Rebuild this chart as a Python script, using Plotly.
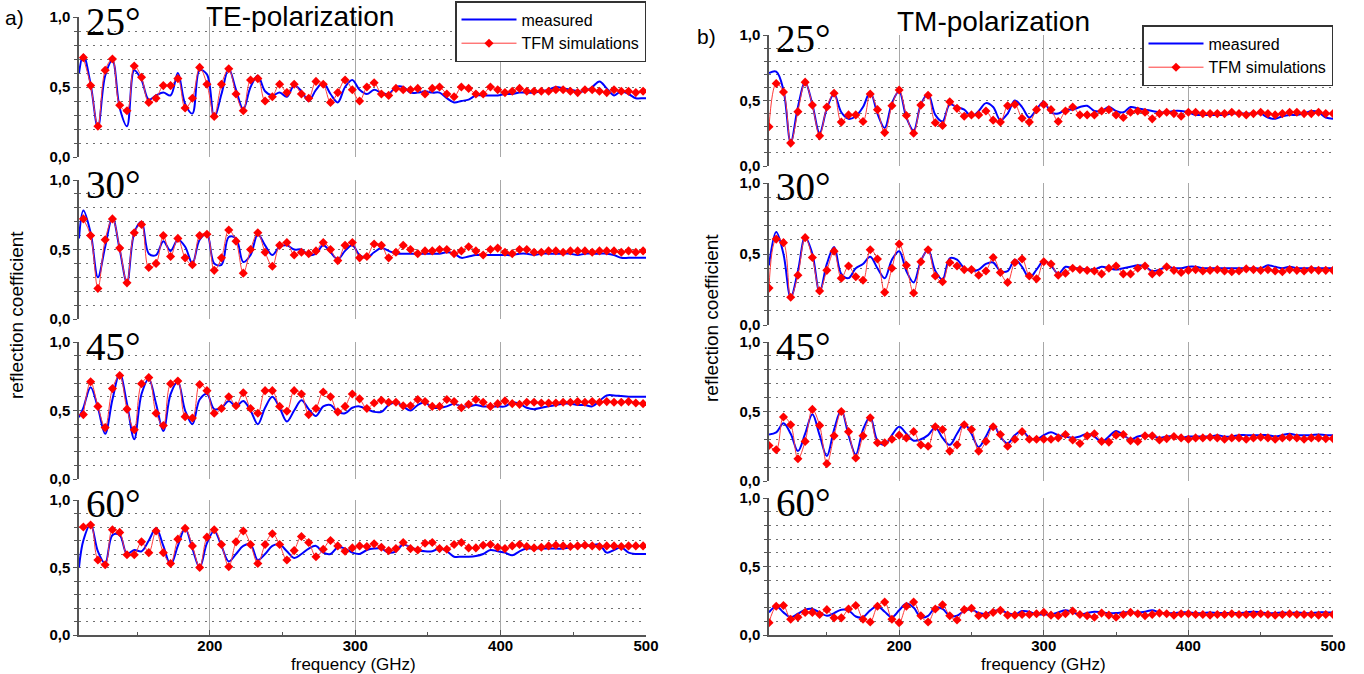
import plotly.graph_objects as go

# frequency grids (GHz)
freq_te_sim = list(range(113, 499, 5))
freq_te_meas = [110] + freq_te_sim + [500]
freq_tm = list(range(110, 501, 5))

# ---- TE polarization ----
te25_sim = [0.71, 0.51, 0.22, 0.62, 0.70, 0.37, 0.33, 0.65, 0.57, 0.39,
            0.42, 0.51, 0.51, 0.56, 0.35, 0.42, 0.64, 0.52, 0.29, 0.52,
            0.63, 0.45, 0.33, 0.55, 0.56, 0.40, 0.43, 0.52, 0.46, 0.52,
            0.45, 0.42, 0.54, 0.52, 0.39, 0.46, 0.55, 0.48, 0.40, 0.50,
            0.53, 0.45, 0.44, 0.49, 0.48, 0.48, 0.49, 0.45, 0.49, 0.50,
            0.45, 0.43, 0.50, 0.49, 0.45, 0.45, 0.50, 0.48, 0.46, 0.47,
            0.49, 0.47, 0.47, 0.47, 0.47, 0.48, 0.48, 0.47, 0.46, 0.48,
            0.48, 0.47, 0.46, 0.48, 0.47, 0.47, 0.46, 0.47]
te25_meas = [0.60,
             0.73, 0.52, 0.21, 0.58, 0.69, 0.35, 0.22, 0.62, 0.55, 0.41,
             0.44, 0.46, 0.44, 0.60, 0.38, 0.31, 0.62, 0.59, 0.28, 0.45,
             0.63, 0.48, 0.34, 0.50, 0.58, 0.47, 0.44, 0.46, 0.43, 0.51,
             0.47, 0.40, 0.48, 0.53, 0.45, 0.39, 0.50, 0.55, 0.48, 0.45,
             0.48, 0.46, 0.45, 0.50, 0.50, 0.46, 0.46, 0.47, 0.46, 0.46,
             0.42, 0.39, 0.40, 0.41, 0.44, 0.44, 0.44, 0.44, 0.45, 0.45,
             0.46, 0.46, 0.46, 0.47, 0.48, 0.50, 0.49, 0.48, 0.47, 0.47,
             0.50, 0.54, 0.49, 0.44, 0.47, 0.45, 0.42, 0.42,
             0.42]

te30_sim = [0.72, 0.60, 0.22, 0.57, 0.72, 0.51, 0.26, 0.62, 0.68, 0.37,
            0.40, 0.60, 0.45, 0.58, 0.44, 0.39, 0.60, 0.61, 0.35, 0.44,
            0.64, 0.56, 0.33, 0.50, 0.62, 0.48, 0.38, 0.53, 0.55, 0.46,
            0.48, 0.47, 0.49, 0.55, 0.50, 0.42, 0.53, 0.55, 0.44, 0.45,
            0.54, 0.53, 0.44, 0.48, 0.53, 0.50, 0.47, 0.49, 0.49, 0.50,
            0.50, 0.47, 0.49, 0.52, 0.49, 0.46, 0.50, 0.51, 0.48, 0.47,
            0.50, 0.50, 0.48, 0.48, 0.49, 0.49, 0.48, 0.49, 0.49, 0.49,
            0.48, 0.49, 0.49, 0.49, 0.48, 0.49, 0.48, 0.49]
te30_meas = [0.58,
             0.78, 0.62, 0.30, 0.52, 0.73, 0.50, 0.26, 0.62, 0.70, 0.47,
             0.46, 0.56, 0.49, 0.57, 0.52, 0.40, 0.57, 0.61, 0.40, 0.39,
             0.59, 0.58, 0.41, 0.46, 0.61, 0.53, 0.46, 0.52, 0.53, 0.50,
             0.50, 0.46, 0.47, 0.53, 0.48, 0.43, 0.49, 0.53, 0.46, 0.44,
             0.48, 0.51, 0.49, 0.47, 0.47, 0.47, 0.47, 0.47, 0.47, 0.47,
             0.48, 0.47, 0.44, 0.45, 0.46, 0.46, 0.46, 0.46, 0.46, 0.46,
             0.47, 0.47, 0.46, 0.47, 0.47, 0.47, 0.47, 0.47, 0.46, 0.47,
             0.47, 0.47, 0.47, 0.46, 0.44, 0.44, 0.44, 0.44,
             0.44]

te45_sim = [0.47, 0.71, 0.53, 0.375, 0.66, 0.755, 0.51, 0.36, 0.695, 0.74,
            0.48, 0.39, 0.695, 0.715, 0.455, 0.445, 0.69, 0.645, 0.48, 0.515,
            0.60, 0.535, 0.63, 0.515, 0.48, 0.645, 0.645, 0.53, 0.495, 0.645,
            0.62, 0.47, 0.515, 0.635, 0.60, 0.49, 0.53, 0.62, 0.585, 0.515,
            0.555, 0.575, 0.56, 0.56, 0.535, 0.535, 0.58, 0.565, 0.53, 0.53,
            0.58, 0.565, 0.52, 0.545, 0.58, 0.56, 0.53, 0.55, 0.57, 0.55,
            0.545, 0.56, 0.56, 0.555, 0.555, 0.555, 0.56, 0.56, 0.565, 0.56,
            0.565, 0.56, 0.565, 0.56, 0.56, 0.565, 0.555, 0.55]
te45_meas = [0.45,
             0.52, 0.67, 0.52, 0.33, 0.58, 0.77, 0.55, 0.29, 0.62, 0.73,
             0.55, 0.35, 0.62, 0.71, 0.50, 0.40, 0.58, 0.62, 0.51, 0.52,
             0.57, 0.53, 0.57, 0.50, 0.40, 0.52, 0.60, 0.52, 0.42, 0.50,
             0.575, 0.51, 0.46, 0.53, 0.54, 0.49, 0.48, 0.52, 0.53, 0.51,
             0.49, 0.49, 0.54, 0.56, 0.53, 0.50, 0.54, 0.56, 0.52, 0.52,
             0.53, 0.55, 0.53, 0.53, 0.54, 0.53, 0.53, 0.53, 0.53, 0.56,
             0.55, 0.52, 0.51, 0.52, 0.53, 0.54, 0.55, 0.55, 0.54, 0.54,
             0.53, 0.57, 0.61, 0.61, 0.605, 0.60, 0.60, 0.60,
             0.60]

te60_sim = [0.80, 0.815, 0.555, 0.52, 0.78, 0.76, 0.595, 0.595, 0.69, 0.61,
            0.77, 0.61, 0.53, 0.71, 0.79, 0.66, 0.50, 0.725, 0.78, 0.67,
            0.505, 0.69, 0.77, 0.67, 0.53, 0.67, 0.75, 0.67, 0.555, 0.625,
            0.73, 0.685, 0.58, 0.635, 0.70, 0.66, 0.62, 0.645, 0.66, 0.655,
            0.675, 0.65, 0.625, 0.64, 0.685, 0.64, 0.63, 0.68, 0.685, 0.64,
            0.635, 0.67, 0.685, 0.645, 0.645, 0.665, 0.67, 0.65, 0.64, 0.66,
            0.67, 0.655, 0.645, 0.65, 0.66, 0.665, 0.66, 0.655, 0.66, 0.665,
            0.66, 0.655, 0.66, 0.66, 0.655, 0.66, 0.66, 0.66]
te60_meas = [0.50,
             0.70, 0.82, 0.62, 0.53, 0.74, 0.74, 0.60, 0.63, 0.62, 0.70,
             0.79, 0.66, 0.52, 0.66, 0.79, 0.64, 0.50, 0.68, 0.77, 0.66,
             0.545, 0.60, 0.66, 0.67, 0.555, 0.60, 0.66, 0.67, 0.62, 0.57,
             0.60, 0.64, 0.66, 0.61, 0.60, 0.65, 0.64, 0.61, 0.60, 0.63,
             0.64, 0.64, 0.61, 0.62, 0.67, 0.65, 0.63, 0.62, 0.62, 0.64,
             0.62, 0.58, 0.58, 0.58, 0.585, 0.60, 0.63, 0.62, 0.61, 0.59,
             0.62, 0.64, 0.64, 0.64, 0.64, 0.64, 0.64, 0.65, 0.66, 0.66,
             0.665, 0.67, 0.61, 0.63, 0.65, 0.61, 0.60, 0.60,
             0.60]

# ---- TM polarization ----
tm25_sim = [0.30, 0.63, 0.565, 0.175, 0.415, 0.64, 0.465, 0.23, 0.45, 0.555,
            0.335, 0.39, 0.39, 0.34, 0.55, 0.43, 0.255, 0.46, 0.58, 0.385,
            0.25, 0.465, 0.54, 0.33, 0.31, 0.49, 0.44, 0.38, 0.39, 0.39,
            0.42, 0.35, 0.335, 0.46, 0.47, 0.365, 0.335, 0.43, 0.47, 0.43,
            0.34, 0.42, 0.45, 0.39, 0.39, 0.39, 0.42, 0.43, 0.39, 0.37,
            0.41, 0.42, 0.41, 0.36, 0.40, 0.41, 0.40, 0.38, 0.41, 0.41,
            0.40, 0.40, 0.40, 0.40, 0.41, 0.40, 0.39, 0.40, 0.41, 0.40,
            0.39, 0.40, 0.41, 0.41, 0.40, 0.40, 0.41, 0.40, 0.40]
tm25_meas = [0.71, 0.72, 0.58, 0.18, 0.45, 0.64, 0.47, 0.25, 0.44, 0.55,
             0.41, 0.36, 0.38, 0.45, 0.565, 0.40, 0.29, 0.48, 0.57, 0.37,
             0.27, 0.47, 0.55, 0.39, 0.34, 0.47, 0.45, 0.43, 0.38, 0.42,
             0.48, 0.45, 0.35, 0.40, 0.50, 0.45, 0.37, 0.43, 0.49, 0.41,
             0.40, 0.43, 0.43, 0.45, 0.46, 0.42, 0.42, 0.45, 0.42, 0.41,
             0.45, 0.44, 0.43, 0.42, 0.41, 0.41, 0.42, 0.42, 0.41, 0.39,
             0.39, 0.39, 0.39, 0.39, 0.40, 0.40, 0.40, 0.40, 0.40, 0.37,
             0.36, 0.38, 0.39, 0.39, 0.40, 0.42, 0.41, 0.37, 0.36]

tm30_sim = [0.26, 0.605, 0.58, 0.195, 0.35, 0.615, 0.475, 0.24, 0.385, 0.52,
            0.33, 0.415, 0.34, 0.315, 0.53, 0.465, 0.23, 0.40, 0.57, 0.42,
            0.225, 0.445, 0.53, 0.345, 0.305, 0.44, 0.415, 0.39, 0.39, 0.35,
            0.38, 0.475, 0.37, 0.30, 0.44, 0.465, 0.345, 0.325, 0.445, 0.43,
            0.35, 0.365, 0.40, 0.39, 0.385, 0.38, 0.36, 0.40, 0.415, 0.36,
            0.36, 0.40, 0.415, 0.36, 0.37, 0.41, 0.385, 0.37, 0.385, 0.39,
            0.38, 0.385, 0.39, 0.38, 0.375, 0.38, 0.395, 0.39, 0.385, 0.39,
            0.38, 0.375, 0.39, 0.385, 0.38, 0.39, 0.385, 0.385, 0.385]
tm30_meas = [0.42, 0.655, 0.50, 0.195, 0.38, 0.62, 0.50, 0.23, 0.43, 0.55,
             0.36, 0.33, 0.40, 0.43, 0.48, 0.40, 0.33, 0.46, 0.52, 0.38,
             0.30, 0.45, 0.53, 0.38, 0.32, 0.47, 0.46, 0.40, 0.38, 0.39,
             0.43, 0.44, 0.38, 0.38, 0.46, 0.41, 0.33, 0.39, 0.45, 0.42,
             0.36, 0.41, 0.40, 0.40, 0.39, 0.39, 0.41, 0.40, 0.39, 0.40,
             0.41, 0.42, 0.41, 0.38, 0.39, 0.41, 0.40, 0.40, 0.41, 0.41,
             0.40, 0.40, 0.40, 0.40, 0.40, 0.40, 0.40, 0.40, 0.40, 0.42,
             0.41, 0.40, 0.41, 0.40, 0.40, 0.40, 0.40, 0.40, 0.40]

tm45_sim = [0.255, 0.225, 0.46, 0.405, 0.16, 0.285, 0.515, 0.40, 0.125, 0.325,
            0.50, 0.355, 0.165, 0.325, 0.455, 0.275, 0.275, 0.30, 0.33, 0.31,
            0.355, 0.26, 0.25, 0.39, 0.37, 0.215, 0.26, 0.405, 0.37, 0.215,
            0.285, 0.39, 0.335, 0.25, 0.30, 0.355, 0.30, 0.30, 0.30, 0.30,
            0.31, 0.335, 0.295, 0.27, 0.325, 0.34, 0.285, 0.28, 0.33, 0.335,
            0.29, 0.285, 0.325, 0.325, 0.295, 0.305, 0.32, 0.31, 0.30, 0.31,
            0.31, 0.315, 0.31, 0.30, 0.31, 0.31, 0.30, 0.31, 0.315, 0.31,
            0.30, 0.31, 0.315, 0.31, 0.30, 0.31, 0.31, 0.305, 0.305]
tm45_meas = [0.335, 0.35, 0.415, 0.34, 0.215, 0.34, 0.48, 0.33, 0.18, 0.37,
             0.51, 0.33, 0.19, 0.37, 0.46, 0.29, 0.26, 0.33, 0.39, 0.34,
             0.29, 0.30, 0.33, 0.385, 0.31, 0.26, 0.34, 0.41, 0.34, 0.245,
             0.32, 0.405, 0.32, 0.27, 0.33, 0.36, 0.31, 0.30, 0.33, 0.35,
             0.33, 0.32, 0.31, 0.32, 0.34, 0.32, 0.28, 0.32, 0.36, 0.33,
             0.30, 0.32, 0.33, 0.32, 0.31, 0.32, 0.32, 0.31, 0.32, 0.32,
             0.32, 0.32, 0.33, 0.32, 0.32, 0.33, 0.33, 0.33, 0.33, 0.33,
             0.32, 0.33, 0.34, 0.33, 0.33, 0.33, 0.335, 0.33, 0.33]

tm60_sim = [0.09, 0.21, 0.215, 0.115, 0.13, 0.165, 0.165, 0.15, 0.185, 0.125,
            0.125, 0.19, 0.215, 0.115, 0.095, 0.21, 0.24, 0.115, 0.09, 0.21,
            0.24, 0.14, 0.095, 0.19, 0.22, 0.14, 0.11, 0.185, 0.195, 0.14,
            0.145, 0.165, 0.18, 0.145, 0.145, 0.15, 0.15, 0.155, 0.165, 0.145,
            0.14, 0.155, 0.175, 0.15, 0.14, 0.13, 0.16, 0.145, 0.13, 0.15,
            0.165, 0.155, 0.14, 0.15, 0.16, 0.155, 0.145, 0.155, 0.155, 0.15,
            0.15, 0.145, 0.15, 0.15, 0.155, 0.15, 0.15, 0.15, 0.155, 0.15,
            0.145, 0.15, 0.155, 0.15, 0.15, 0.15, 0.145, 0.15, 0.15]
tm60_meas = [0.165, 0.21, 0.165, 0.13, 0.155, 0.185, 0.19, 0.165, 0.14, 0.16,
             0.185, 0.18, 0.135, 0.13, 0.18, 0.21, 0.17, 0.13, 0.18, 0.23,
             0.20, 0.13, 0.14, 0.20, 0.19, 0.14, 0.14, 0.175, 0.185, 0.16,
             0.155, 0.175, 0.18, 0.16, 0.15, 0.175, 0.17, 0.15, 0.15, 0.15,
             0.165, 0.18, 0.165, 0.15, 0.16, 0.17, 0.165, 0.16, 0.16, 0.165,
             0.165, 0.165, 0.17, 0.18, 0.165, 0.16, 0.16, 0.165, 0.165, 0.16,
             0.16, 0.165, 0.16, 0.16, 0.16, 0.16, 0.165, 0.17, 0.165, 0.16,
             0.16, 0.165, 0.16, 0.165, 0.16, 0.16, 0.165, 0.165, 0.165]

angles = ["25°", "30°", "45°", "60°"]

for s in (te25_sim, te30_sim, te45_sim, te60_sim):
    assert len(s) == len(freq_te_sim)
for s in (te25_meas, te30_meas, te45_meas, te60_meas):
    assert len(s) == len(freq_te_meas)
for s in (tm25_sim, tm30_sim, tm45_sim, tm60_sim, tm25_meas, tm30_meas, tm45_meas, tm60_meas):
    assert len(s) == len(freq_tm)

W, H = 1364, 674
SANS = "Liberation Sans, Arial, sans-serif"
SERIF = "Liberation Serif, Times New Roman, serif"

# pixel layout of the panels
cols = {"TE": (79, 646), "TM": (769, 1333)}
rows = {"TE": [(17, 157), (180, 319), (342, 479), (500, 635)],
        "TM": [(35, 166), (183, 325), (342, 481), (498, 635)]}

panels = [
    ("TE", 0, freq_te_meas, te25_meas, freq_te_sim, te25_sim),
    ("TE", 1, freq_te_meas, te30_meas, freq_te_sim, te30_sim),
    ("TE", 2, freq_te_meas, te45_meas, freq_te_sim, te45_sim),
    ("TE", 3, freq_te_meas, te60_meas, freq_te_sim, te60_sim),
    ("TM", 0, freq_tm, tm25_meas, freq_tm, tm25_sim),
    ("TM", 1, freq_tm, tm30_meas, freq_tm, tm30_sim),
    ("TM", 2, freq_tm, tm45_meas, freq_tm, tm45_sim),
    ("TM", 3, freq_tm, tm60_meas, freq_tm, tm60_sim),
]


def note(text, px, py, size, family=SANS, **kw):
    return dict(text=text, xref="paper", yref="paper", x=px / W, y=1 - py / H,
                xanchor=kw.pop("xanchor", "center"), yanchor="middle",
                showarrow=False, font=dict(family=family, size=size, color="black"), **kw)


fig = go.Figure()
layout = {}
annotations = []

for i, (pol, r, fm, ym, fs, ys) in enumerate(panels, start=1):
    x0, x1 = cols[pol]
    top, bot = rows[pol][r]
    sfx = "" if i == 1 else str(i)
    legend_name = "legend" if pol == "TE" else "legend2"
    first = r == 0

    fig.add_trace(go.Scatter(
        x=fm, y=ym, mode="lines", name="measured",
        line=dict(color="#0000ff", width=2, shape="spline", smoothing=1.0),
        xaxis="x" + sfx, yaxis="y" + sfx,
        showlegend=first, legend=legend_name,
    ))
    fig.add_trace(go.Scatter(
        x=fs, y=ys, mode="lines+markers", name="TFM simulations",
        line=dict(color="#ff3a3a", width=1, shape="spline", smoothing=1.0),
        marker=dict(symbol="diamond", size=7, color="#ff0000"),
        xaxis="x" + sfx, yaxis="y" + sfx,
        showlegend=first, legend=legend_name,
    ))

    bottom = r == 3
    xa = dict(
        domain=[x0 / W, x1 / W], range=[110, 500], anchor="y" + sfx,
        showgrid=True, gridcolor="#a8a8a8", gridwidth=1, zeroline=False,
        tickvals=[200, 300, 400, 500] if bottom else [200, 300, 400],
        showticklabels=bottom,
        tickfont=dict(family=SANS, size=15, color="black", weight="bold"),
        showline=bottom, linecolor="#555", linewidth=1.5,
        ticks="inside" if bottom else "", ticklen=5, tickcolor="#555",
    )
    if bottom:
        xa["ticklabelstandoff"] = -4
        xa["minor"] = dict(tickvals=[150, 250, 350, 450], ticks="inside", ticklen=3,
                           tickcolor="#555", showgrid=False)
    ya = dict(
        domain=[1 - bot / H, 1 - top / H], range=[0, 1], anchor="x" + sfx,
        tickvals=[0, 0.5, 1.0], ticktext=["0,0", "0,5", "1,0"],
        tickfont=dict(family=SANS, size=15, color="black", weight="bold"),
        showline=True, linecolor="#555", linewidth=1.5,
        ticks="outside", ticklen=4, tickcolor="#555",
        showgrid=True, gridcolor="#707070", gridwidth=1.2, griddash="2px,5px",
        zeroline=False,
        minor=dict(tickvals=[0.1, 0.2, 0.3, 0.4, 0.6, 0.7, 0.8, 0.9], ticks="outside",
                   ticklen=3, tickcolor="#555", showgrid=True, gridcolor="#707070",
                   gridwidth=1.2, griddash="2px,5px"),
    )
    layout["xaxis" + sfx] = xa
    layout["yaxis" + sfx] = ya

    annotations.append(note(angles[r], x0 + 5, top + 4, 39, family=SERIF, xanchor="left"))

# panel letters, titles, axis titles
annotations += [
    note("a)", 14, 17, 21),
    note("b)", 706, 37, 21),
    note("TE-polarization", 300, 16, 28),
    note("TM-polarization", 993, 21, 28),
    note("reflection coefficient", 16, 315, 19, textangle=-90),
    note("reflection coefficient", 711, 318, 19, textangle=-90),
    note("frequency (GHz)", 353, 664, 17),
    note("frequency (GHz)", 1043, 664, 17),
]

legend_style = dict(
    xanchor="right", yanchor="top", bgcolor="white", bordercolor="#333",
    borderwidth=1.5, font=dict(family=SANS, size=16, color="black"),
    itemwidth=55, tracegroupgap=0,
)

fig.update_layout(
    width=W, height=H,
    margin=dict(l=0, r=0, t=0, b=0, autoexpand=False),
    paper_bgcolor="white", plot_bgcolor="white",
    legend=dict(x=646 / W, y=1 - 1 / H, **legend_style),
    legend2=dict(x=1333 / W, y=1 - 25 / H, **legend_style),
    annotations=annotations,
    **layout,
)

fig.write_html("out.html", config={"displayModeBar": False},
               post_script="document.body.style.margin='0';")
